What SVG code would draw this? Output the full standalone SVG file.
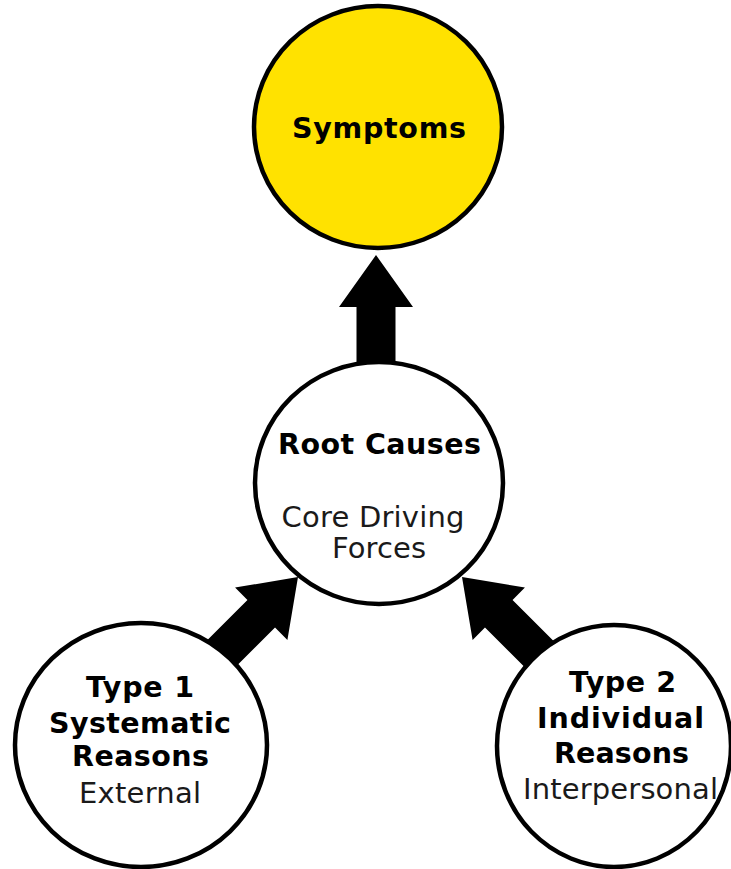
<svg xmlns="http://www.w3.org/2000/svg" width="731" height="869" viewBox="0 0 731 869">
<style>
.node{stroke:#000;stroke-width:4.5}
.b{font-family:"DejaVu Sans",Verdana,sans-serif;font-weight:bold;font-size:28.5px;fill:#000;text-anchor:middle}
.r{font-family:"DejaVu Sans",Verdana,sans-serif;font-size:29px;fill:#1a1a1a;text-anchor:middle}
.arrow{fill:#000}
</style>
<defs>
<path id="arr" d="M0,0 L-52,-37 L-52,-19.5 L-150,-19.5 L-150,19.5 L-52,19.5 L-52,37 Z"/>
</defs>
<rect width="731" height="869" fill="#fff"/>
<g id="connectors" class="arrow">
<use href="#arr" transform="translate(376,255) rotate(-90)"/>
<use href="#arr" transform="translate(298,577) rotate(-45)"/>
<use href="#arr" transform="translate(462,577) rotate(-135)"/>
</g>
<g id="symptoms">
<ellipse class="node" cx="378" cy="127" rx="124" ry="121" fill="#FFE200"/>
<text class="b" x="379" y="138" textLength="174" lengthAdjust="spacing">Symptoms</text>
</g>
<g id="root-causes">
<ellipse class="node" cx="379" cy="483" rx="124" ry="121" fill="#fff"/>
<text class="b" x="379.5" y="454" textLength="203" lengthAdjust="spacing">Root Causes</text>
<text class="r" x="373" y="527" textLength="183" lengthAdjust="spacing">Core Driving</text>
<text class="r" x="379" y="558" textLength="94" lengthAdjust="spacing">Forces</text>
</g>
<g id="type1">
<ellipse class="node" cx="141" cy="745" rx="126" ry="122" fill="#fff"/>
<text class="b" x="140" y="697" textLength="108" lengthAdjust="spacing">Type 1</text>
<text class="b" x="140" y="733" textLength="182" lengthAdjust="spacing">Systematic</text>
<text class="b" x="140.5" y="766" textLength="137" lengthAdjust="spacing">Reasons</text>
<text class="r" x="140" y="803" textLength="122" lengthAdjust="spacing">External</text>
</g>
<g id="type2">
<ellipse class="node" cx="614" cy="746" rx="117" ry="121" fill="#fff"/>
<text class="b" x="622.5" y="692" textLength="107" lengthAdjust="spacing">Type 2</text>
<text class="b" x="620.5" y="728" textLength="167" lengthAdjust="spacing">Individual</text>
<text class="b" x="621.5" y="763" textLength="135" lengthAdjust="spacing">Reasons</text>
<text class="r" x="620.5" y="799" textLength="195" lengthAdjust="spacing">Interpersonal</text>
</g>
</svg>
